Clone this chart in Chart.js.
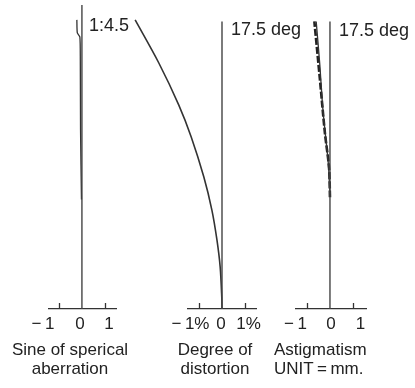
<!DOCTYPE html>
<html>
<head>
<meta charset="utf-8">
<script src="https://cdn.jsdelivr.net/npm/chart.js@4.4.0/dist/chart.umd.min.js"></script>
<style>
  body { margin: 0; background: #fff; }
  #wrap { position: relative; width: 415px; height: 388px; overflow: hidden;
          font-family: "Liberation Sans", Arial, sans-serif; color: #222; }
  #wrap canvas { position: absolute; left: 0; top: 0; }
  .lbl { position: absolute; white-space: nowrap; }
  .top { font-size: 18px; line-height: 18px; }
  .tick { font-size: 17px; line-height: 17px; top: 315px; transform: translateX(-50%); }
  .cap { font-size: 17px; line-height: 19px; top: 340px; }
</style>
</head>
<body>
<div id="wrap">
  <canvas id="sphere" width="415" height="388"></canvas>
  <canvas id="distort" width="415" height="388"></canvas>
  <canvas id="astig" width="415" height="388"></canvas>
</div>
<script>
// spherical aberration (relative aperture height 0..1, shift in mm)
const aberHeight = [0.36, 0.59, 0.82, 0.895, 0.908, 0.951];
const aberShift  = [-0.02, -0.06, -0.07, -0.09, -0.2, -0.22];

// distortion (field angle in deg, percent)
const distAngle   = [0, 0.73, 2.56, 4.2, 6.02, 8.03, 10.47, 12.41, 14.97, 17.59];
const distPercent = [0, -0.01, -0.08, -0.22, -0.44, -0.79, -1.34, -1.88, -2.75, -3.78];

// astigmatism (field angle in deg, mm)
const meridAngle = [6.8, 8.6, 10.7, 14.0, 17.5];
const meridShift = [0, -0.04, -0.22, -0.44, -0.68];
const sagAngle   = [7.0, 9.0, 12.0, 15.0, 17.5];
const sagShift   = [0, -0.08, -0.3, -0.45, -0.6];

const apertureTop = 1;
const fieldTop = 17.5;

const xTickValues = [-1, 1];
const tickLabelsMm  = ['\u2212\u20091', '0', '1'];
const tickLabelsPct = ['\u2212\u20091%', '0', '1%'];

const topLabels = ['1:4.5', '17.5 deg', '17.5 deg'];
const captions = [
  ['Sine of sperical', 'aberration'],
  ['Degree of', 'distortion'],
  ['Astigmatism', 'UNIT\u2009=\u2009mm.']
];

function pts(ys, xs) {
  return ys.map((y, i) => ({ x: xs[i], y: y }));
}

const upTicks = {
  id: 'upTicks',
  afterDraw(chart) {
    const x = chart.scales.x, ctx = chart.ctx, b = chart.chartArea.bottom;
    ctx.save();
    ctx.strokeStyle = '#333';
    ctx.lineWidth = 1.3;
    xTickValues.forEach(v => {
      const p = Math.round(x.getPixelForValue(v)) + 0.5;
      ctx.beginPath();
      ctx.moveTo(p, b);
      ctx.lineTo(p, b - 6);
      ctx.stroke();
    });
    ctx.restore();
  }
};

function axisLine(top) {
  return { data: [{ x: 0, y: 0 }, { x: 0, y: top }], showLine: true, pointRadius: 0,
           borderColor: '#444', borderWidth: 1.4 };
}

function curve(data, extra) {
  return Object.assign({ data: data, showLine: true, pointRadius: 0, borderColor: '#333',
                         borderWidth: 1.5, tension: 0.3, clip: false }, extra || {});
}

function makePanel(id, p) {
  new Chart(document.getElementById(id), {
    type: 'scatter',
    data: { datasets: p.datasets },
    options: {
      responsive: false,
      animation: false,
      events: [],
      layout: { padding: { left: p.left, right: 415 - p.right, top: 5, bottom: 388 - 309 } },
      plugins: { legend: { display: false }, tooltip: { enabled: false } },
      scales: {
        x: {
          type: 'linear', min: p.xMin, max: p.xMax,
          grid: { display: false, drawTicks: false },
          border: { display: true, color: '#333', width: 1.3 },
          ticks: { display: false }
        },
        y: { display: false, min: 0, max: p.yMax }
      }
    },
    plugins: [upTicks]
  });
}

makePanel('sphere', {
  left: 49, right: 116, xMin: -1.43, xMax: 1.48, yMax: apertureTop,
  datasets: [axisLine(apertureTop), curve(pts(aberHeight, aberShift), { tension: 0.2, borderWidth: 1.3 })]
});

makePanel('distort', {
  left: 188, right: 256, xMin: -1.48, xMax: 1.48, yMax: 18.5,
  datasets: [axisLine(fieldTop), curve(pts(distAngle, distPercent), { borderWidth: 1.6 })]
});

makePanel('astig', {
  left: 296, right: 366, xMin: -1.48, xMax: 1.57, yMax: 18.5,
  datasets: [
    axisLine(fieldTop),
    curve(pts(sagAngle, sagShift), { borderWidth: 1.3 }),
    curve(pts(meridAngle, meridShift), { borderWidth: 2.6, borderDash: [7, 2], borderColor: '#222' })
  ]
});

// text labels
const wrap = document.getElementById('wrap');
function addLabel(cls, text, style) {
  const d = document.createElement('div');
  d.className = 'lbl ' + cls;
  d.innerHTML = text;
  Object.assign(d.style, style);
  wrap.appendChild(d);
}

addLabel('top', topLabels[0], { left: '89px', top: '16px' });
addLabel('top', topLabels[1], { left: '231px', top: '20px' });
addLabel('top', topLabels[2], { left: '339px', top: '21px' });

[[tickLabelsMm, [43, 80, 109]], [tickLabelsPct, [190.5, 221, 248.5]], [tickLabelsMm, [295.5, 331, 360.5]]]
  .forEach(([labels, xs]) => labels.forEach((t, i) => addLabel('tick', t, { left: xs[i] + 'px' })));

addLabel('cap', captions[0].join('<br>'), { left: '70px', transform: 'translateX(-50%)', textAlign: 'center' });
addLabel('cap', captions[1].join('<br>'), { left: '215px', transform: 'translateX(-50%)', textAlign: 'center' });
addLabel('cap', captions[2].join('<br>'), { left: '274px' });
</script>
</body>
</html>
